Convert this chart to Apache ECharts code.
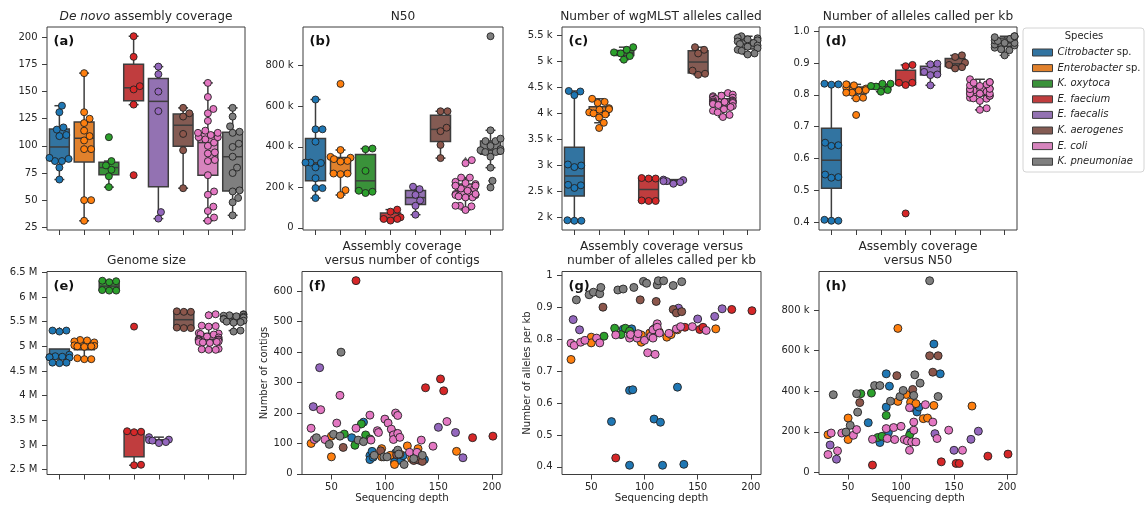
<!DOCTYPE html>
<html><head><meta charset="utf-8">
<script src="https://cdn.jsdelivr.net/npm/echarts@6/dist/echarts.min.js"></script>
<style>html,body{margin:0;padding:0;background:#fff}#c{width:1145px;height:508px}</style>
</head><body><div id="c"></div>
<script>
// ---------------- DATA ----------------
const species = ['Citrobacter sp.', 'Enterobacter sp.', 'K. oxytoca', 'E. faecium', 'E. faecalis', 'K. aerogenes', 'E. coli', 'K. pneumoniae'];

// per-sample values (aligned within each species): coverage, N50 (k), alleles per kb, contigs
const coverage = [
  [69, 80, 86, 86, 88, 89, 109, 110, 115, 117, 131, 137],
  [31, 50, 50, 97, 97, 105, 109, 114, 121, 125, 131, 167],
  [62, 72, 78, 82, 86, 108],
  [73, 138, 152, 155, 182, 201],
  [33, 39, 132, 150, 166, 173],
  [61, 96, 111, 127, 130, 135],
  [31, 34, 40, 44, 55, 58, 73, 86, 87, 93, 94, 100, 103, 106, 108, 108, 110, 112, 112, 114, 123, 130, 134, 145, 158],
  [36, 48, 52, 58, 59, 75, 80, 90, 99, 102, 112, 113, 118, 127, 135]
];
const n50k = [
  [245, 147, 486, 322, 196, 425, 196, 320, 298, 322, 633, 486],
  [186, 268, 162, 710, 350, 384, 346, 339, 265, 268, 330, 327],
  [388, 391, 172, 178, 281, 183],
  [36, 52, 44, 44, 80, 90],
  [135, 65, 191, 109, 163, 203],
  [344, 477, 409, 575, 494, 575],
  [88, 194, 106, 194, 183, 211, 163, 216, 167, 221, 162, 227, 162, 155, 319, 109, 150, 208, 248, 150, 334, 248, 167, 208, 109],
  [383, 199, 232, 388, 297, 428, 428, 351, 374, 404, 379, 481, 440, 945, 374]
];
const perKb = [
  [0.542, 0.832, 0.640, 0.405, 0.833, 0.642, 0.550, 0.835, 0.540, 0.405, 0.650, 0.408],
  [0.737, 0.807, 0.789, 0.814, 0.791, 0.820, 0.832, 0.823, 0.807, 0.815, 0.830, 0.833],
  [0.810, 0.835, 0.815, 0.835, 0.826, 0.828],
  [0.428, 0.838, 0.831, 0.838, 0.894, 0.890],
  [0.862, 0.830, 0.898, 0.864, 0.872, 0.896],
  [0.901, 0.924, 0.919, 0.894, 0.883, 0.887],
  [0.788, 0.781, 0.791, 0.797, 0.804, 0.789, 0.814, 0.804, 0.815, 0.804, 0.818, 0.797, 0.758, 0.810, 0.830, 0.804, 0.753, 0.849, 0.838, 0.820, 0.819, 0.833, 0.840, 0.840, 0.828],
  [0.924, 0.940, 0.948, 0.943, 0.963, 0.955, 0.958, 0.963, 0.982, 0.976, 0.971, 0.984, 0.984, 0.969, 0.981]
];
const contigs = [
  [119, 170, 60, 47, 74, 55, 39, 69, 44, 60, 52, 47],
  [100, 124, 56, 83, 56, 61, 31, 65, 92, 50, 83, 74],
  [131, 94, 164, 128, 115, 136],
  [635, 283, 312, 273, 119, 124],
  [221, 349, 45, 153, 136, 53],
  [87, 76, 63, 44, 48, 41],
  [150, 113, 211, 113, 167, 258, 150, 193, 111, 142, 136, 180, 167, 147, 128, 113, 200, 192, 133, 120, 71, 71, 111, 91, 172],
  [119, 97, 130, 124, 400, 111, 106, 61, 56, 56, 78, 65, 31, 50, 61]
];
// wgMLST alleles called (k)
const allelesK = [
  [4.42, 4.35, 4.43, 3.00, 2.97, 3.02, 2.62, 2.57, 2.63, 1.94, 1.94, 1.95],
  [4.28, 4.22, 4.20, 4.10, 4.08, 4.07, 4.02, 4.00, 3.98, 3.92, 3.82, 3.72],
  [5.27, 5.22, 5.17, 5.15, 5.10, 5.03],
  [2.76, 2.75, 2.75, 2.33, 2.32, 2.32],
  [2.73, 2.72, 2.70, 2.70, 2.68, 2.65],
  [5.27, 5.22, 5.15, 4.82, 4.76, 4.74],
  [4.39, 4.36, 4.34, 4.33, 4.31, 4.30, 4.28, 4.26, 4.25, 4.24, 4.23, 4.22, 4.22, 4.21, 4.20, 4.19, 4.18, 4.16, 4.14, 4.12, 4.08, 4.05, 4.02, 3.97, 3.93],
  [5.48, 5.45, 5.44, 5.42, 5.40, 5.38, 5.35, 5.33, 5.30, 5.28, 5.25, 5.22, 5.20, 5.15, 5.13]
];
// genome size (M)
const genomeM = [
  [5.32, 5.30, 5.32, 4.83, 4.80, 4.79, 4.78, 4.78, 4.77, 4.67, 4.66, 4.67],
  [5.13, 5.12, 5.10, 5.08, 5.02, 5.01, 5.00, 5.00, 4.99, 4.76, 4.74, 4.74],
  [6.33, 6.32, 6.30, 6.14, 6.13, 6.13],
  [5.40, 3.28, 3.27, 3.26, 2.60, 2.59],
  [3.16, 3.11, 3.10, 3.09, 3.06, 3.04],
  [5.71, 5.70, 5.70, 5.38, 5.37, 5.37],
  [5.65, 5.63, 5.42, 5.41, 5.40, 5.27, 5.26, 5.25, 5.24, 5.20, 5.18, 5.15, 5.14, 5.14, 5.13, 5.12, 5.10, 5.09, 5.09, 5.08, 5.07, 4.95, 4.94, 4.93, 4.93],
  [5.65, 5.64, 5.63, 5.62, 5.61, 5.60, 5.58, 5.56, 5.55, 5.52, 5.50, 5.49, 5.48, 5.32, 5.30]
];

// tick values and labels
const ticksCoverage = [25, 50, 75, 100, 125, 150, 175, 200];
const labelsCoverage = ['25', '50', '75', '100', '125', '150', '175', '200'];
const ticksN50 = [0, 200, 400, 600, 800];
const labelsN50 = ['0', '200 k', '400 k', '600 k', '800 k'];
const ticksAlleles = [2, 2.5, 3, 3.5, 4, 4.5, 5, 5.5];
const labelsAlleles = ['2 k', '2.5 k', '3 k', '3.5 k', '4 k', '4.5 k', '5 k', '5.5 k'];
const ticksPerKb = [0.4, 0.5, 0.6, 0.7, 0.8, 0.9, 1.0];
const labelsPerKbD = ['0.4', '0.5', '0.6', '0.7', '0.8', '0.9', '1.0'];
const labelsPerKbG = ['0.4', '0.5', '0.6', '0.7', '0.8', '0.9', '1'];
const ticksGenome = [2.5, 3, 3.5, 4, 4.5, 5, 5.5, 6, 6.5];
const labelsGenome = ['2.5 M', '3 M', '3.5 M', '4 M', '4.5 M', '5 M', '5.5 M', '6 M', '6.5 M'];
const ticksContigs = [0, 100, 200, 300, 400, 500, 600];
const labelsContigs = ['0', '100', '200', '300', '400', '500', '600'];
const ticksDepth = [50, 100, 150, 200];
const labelsDepth = ['50', '100', '150', '200'];

// ---------------- STYLE ----------------
const FONT = 'DejaVu Sans';
const TEXT = '#262626';
const EDGE = '#3d3d3d';
const BOX = ['#3274a1', '#e1812c', '#3a923a', '#c03d3e', '#9372b2', '#845b53', '#d684bd', '#7f7f7f'];
const PT = ['#1f77b4', '#ff7f0e', '#2ca02c', '#d62728', '#9467bd', '#8c564b', '#e377c2', '#7f7f7f'];

const boxPanels = [
  {lab: '(a)', title: '{i|De novo} assembly coverage', vals: coverage, left: 47, top: 27, width: 198, height: 203, min: 22.5, max: 209.5, ticks: ticksCoverage, labels: labelsCoverage},
  {lab: '(b)', title: 'N50', vals: n50k, left: 303, top: 27, width: 200, height: 203, min: -10.5, max: 990.5, ticks: ticksN50, labels: labelsN50},
  {lab: '(c)', title: 'Number of wgMLST alleles called', vals: allelesK, left: 562, top: 27, width: 198, height: 203, min: 1.763, max: 5.657, ticks: ticksAlleles, labels: labelsAlleles},
  {lab: '(d)', title: 'Number of alleles called per kb', vals: perKb, left: 819, top: 27, width: 198, height: 203, min: 0.376, max: 1.013, ticks: ticksPerKb, labels: labelsPerKbD},
  {lab: '(e)', title: 'Genome size', vals: genomeM, left: 47, top: 271.5, width: 199, height: 203, min: 2.403, max: 6.517, ticks: ticksGenome, labels: labelsGenome}
];
const scatterPanels = [
  {lab: '(f)', title: 'Assembly coverage\nversus number of contigs', yv: contigs, left: 302, top: 271.5, width: 200, height: 203, min: -2, max: 665, ticks: ticksContigs, labels: labelsContigs, yName: 'Number of contigs', yGap: 29},
  {lab: '(g)', title: 'Assembly coverage versus\nnumber of alleles called per kb', yv: perKb, left: 562, top: 271.5, width: 199, height: 203, min: 0.376, max: 1.013, ticks: ticksPerKb, labels: labelsPerKbG, yName: 'Number of alleles per kb', yGap: 30},
  {lab: '(h)', title: 'Assembly coverage\nversus N50', yv: n50k, left: 819, top: 271.5, width: 198, height: 203, min: -10.5, max: 990.5, ticks: ticksN50, labels: labelsN50, yName: '', yGap: 0}
];

// ---------------- HELPERS ----------------
function pct(s, p) {
  const pos = (s.length - 1) * p, lo = Math.floor(pos), hi = Math.ceil(pos);
  return s[lo] + (s[hi] - s[lo]) * (pos - lo);
}
function boxStats(v) {
  const s = v.slice().sort((a, b) => a - b);
  const q1 = pct(s, 0.25), med = pct(s, 0.5), q3 = pct(s, 0.75), iqr = q3 - q1;
  const inside = s.filter(x => x >= q1 - 1.5 * iqr && x <= q3 + 1.5 * iqr);
  const fl = s.filter(x => x < q1 - 1.5 * iqr || x > q3 + 1.5 * iqr);
  return {q1, med, q3, lo: inside[0], hi: inside[inside.length - 1], fliers: fl};
}
function swarmOffsets(vals, pxPerUnit, catW, d) {
  const idx = vals.map((v, i) => i).sort((a, b) => vals[a] - vals[b]);
  const placed = [], off = new Array(vals.length);
  for (const k of idx) {
    const y = vals[k] * pxPerUnit;
    const near = placed.filter(p => Math.abs(p.y - y) < d);
    const cands = [0];
    for (const p of near) {
      const dx = Math.sqrt(d * d - (p.y - y) * (p.y - y));
      cands.push(p.x + dx, p.x - dx);
    }
    cands.sort((a, b) => Math.abs(a) - Math.abs(b));
    let x = cands[cands.length - 1];
    for (const c of cands) {
      if (near.every(p => (p.x - c) * (p.x - c) + (p.y - y) * (p.y - y) >= d * d - 1e-6)) { x = c; break; }
    }
    placed.push({x, y});
    const lim = 0.4 * catW;
    off[k] = Math.max(-lim, Math.min(lim, x)) / catW;
  }
  return off;
}
function labelFor(ticks, labels) {
  return v => { const i = ticks.findIndex(t => Math.abs(t - v) < 1e-9); return i >= 0 ? labels[i] : ''; };
}
function yAxisFor(p, gi, extra) {
  return Object.assign({
    type: 'value', gridIndex: gi, min: p.min, max: p.max,
    splitLine: {show: false},
    axisLine: {show: false, onZero: false},
    axisTick: {show: true, length: 5, customValues: p.ticks, lineStyle: {color: EDGE, width: 1}},
    axisLabel: {show: true, customValues: p.ticks, formatter: labelFor(p.ticks, p.labels), margin: 9.5,
      fontFamily: FONT, fontSize: 10, color: TEXT}
  }, extra || {});
}

const grids = [], xAxes = [], yAxes = [], series = [], graphics = [];
const SWARM_D = 7;

boxPanels.forEach((p, pi) => {
  grids.push({left: p.left, top: p.top, width: p.width, height: p.height, show: true, borderColor: EDGE, borderWidth: 1, backgroundColor: 'transparent', containLabel: false});
  xAxes.push({type: 'value', gridIndex: pi, min: -0.5, max: 7.5, splitLine: {show: false}, axisLine: {show: false, onZero: false},
    axisTick: {show: true, length: 5, customValues: [0, 1, 2, 3, 4, 5, 6, 7], lineStyle: {color: EDGE}},
    axisLabel: {show: false}});
  yAxes.push(yAxisFor(p, pi));
  const stats = p.vals.map(boxStats);
  series.push({
    type: 'custom', xAxisIndex: pi, yAxisIndex: pi, z: 1, silent: true,
    data: stats.map((s, i) => [i, s.lo, s.q1, s.med, s.q3, s.hi]),
    renderItem: (params, api) => {
      const i = api.value(0);
      const bw = api.size([0.8, 0])[0];
      const x = api.coord([i, 0])[0];
      const Y = k => api.coord([i, api.value(k)])[1];
      const yLo = Y(1), yQ1 = Y(2), yMed = Y(3), yQ3 = Y(4), yHi = Y(5);
      const ls = {stroke: EDGE, lineWidth: 1.5};
      return {type: 'group', children: [
        {type: 'line', shape: {x1: x, y1: yQ1, x2: x, y2: yLo}, style: ls},
        {type: 'line', shape: {x1: x, y1: yQ3, x2: x, y2: yHi}, style: ls},
        {type: 'line', shape: {x1: x - bw / 4, y1: yLo, x2: x + bw / 4, y2: yLo}, style: ls},
        {type: 'line', shape: {x1: x - bw / 4, y1: yHi, x2: x + bw / 4, y2: yHi}, style: ls},
        {type: 'rect', shape: {x: x - bw / 2, y: yQ3, width: bw, height: yQ1 - yQ3}, style: {fill: BOX[i], stroke: EDGE, lineWidth: 1.5}},
        {type: 'line', shape: {x1: x - bw / 2, y1: yMed, x2: x + bw / 2, y2: yMed}, style: ls}
      ]};
    }
  });
  const fl = [];
  stats.forEach((s, i) => s.fliers.forEach(v => fl.push([i, v])));
  series.push({type: 'scatter', xAxisIndex: pi, yAxisIndex: pi, z: 2, silent: true, symbol: 'diamond', symbolSize: [5, 7],
    itemStyle: {color: EDGE}, data: fl});
  const pxPerUnit = p.height / (p.max - p.min), catW = p.width / 8;
  p.vals.forEach((vals, i) => {
    const off = swarmOffsets(vals, pxPerUnit, catW, SWARM_D);
    series.push({type: 'scatter', xAxisIndex: pi, yAxisIndex: pi, z: 3, silent: true, symbolSize: SWARM_D,
      itemStyle: {color: PT[i], borderColor: '#222', borderWidth: 0.9, opacity: 1},
      data: vals.map((v, j) => [i + off[j], v])});
  });
});

scatterPanels.forEach((p, k) => {
  const gi = boxPanels.length + k;
  grids.push({left: p.left, top: p.top, width: p.width, height: p.height, show: true, borderColor: EDGE, borderWidth: 1, backgroundColor: 'transparent', containLabel: false});
  xAxes.push({type: 'value', gridIndex: gi, min: 22.5, max: 209.5, splitLine: {show: false}, axisLine: {show: false, onZero: false},
    axisTick: {show: true, length: 5, customValues: ticksDepth, lineStyle: {color: EDGE}},
    axisLabel: {show: true, customValues: ticksDepth, formatter: labelFor(ticksDepth, labelsDepth), margin: 7.5, fontFamily: FONT, fontSize: 10, color: TEXT},
    name: 'Sequencing depth', nameLocation: 'middle', nameGap: 18.5,
    nameTextStyle: {fontFamily: FONT, fontSize: 10.3, color: TEXT, verticalAlign: 'top'}});
  yAxes.push(yAxisFor(p, gi, p.yName ? {name: p.yName, nameLocation: 'middle', nameGap: p.yGap,
    nameTextStyle: {fontFamily: FONT, fontSize: 10, color: TEXT}} : {}));
  species.forEach((s, i) => {
    series.push({type: 'scatter', name: s, xAxisIndex: gi, yAxisIndex: gi, z: 3, silent: true, symbolSize: 8,
      itemStyle: {color: PT[i], borderColor: '#222', borderWidth: 0.9, opacity: 1},
      data: coverage[i].map((c, j) => [c, p.yv[i][j]])});
  });
});

// titles and panel letters
boxPanels.concat(scatterPanels).forEach(p => {
  graphics.push({type: 'text', x: p.left + p.width / 2, y: p.top - 3.5, silent: true,
    style: {text: p.title, align: 'center', verticalAlign: 'bottom', fontFamily: FONT, fontSize: 12.2, lineHeight: 14, fill: TEXT,
      rich: {i: {fontStyle: 'italic', fontFamily: FONT, fontSize: 12.2, fill: TEXT}}}});
  graphics.push({type: 'text', x: p.left + 6.5, y: p.top + 15, silent: true, z: 10,
    style: {text: p.lab, align: 'left', verticalAlign: 'middle', fontFamily: FONT, fontSize: 13, fontWeight: 'bold', fill: '#111'}});
});
// legend frame and title
graphics.push({type: 'rect', shape: {x: 1023, y: 28, width: 121, height: 144, r: 3}, silent: true, z: -1,
  style: {fill: '#fff', stroke: '#d4d4d4', lineWidth: 1}});
graphics.push({type: 'text', x: 1084, y: 36.5, silent: true,
  style: {text: 'Species', align: 'center', verticalAlign: 'middle', fontFamily: FONT, fontSize: 10, fill: TEXT}});

const chart = echarts.init(document.getElementById('c'), null, {renderer: 'canvas'});
chart.setOption({
  animation: false,
  backgroundColor: '#fff',
  grid: grids, xAxis: xAxes, yAxis: yAxes, series: series,
  legend: {
    left: 1027, top: 41.5, orient: 'vertical', itemWidth: 20, itemHeight: 7, itemGap: 3.6,
    icon: 'rect', selectedMode: false, padding: 5,
    data: species.map((s, i) => ({name: s, itemStyle: {color: BOX[i], borderColor: EDGE, borderWidth: 1}})),
    formatter: name => name.endsWith(' sp.') ? '{i|' + name.slice(0, -4) + '} sp.' : '{i|' + name + '}',
    textStyle: {fontFamily: FONT, fontSize: 10, color: TEXT, lineHeight: 12,
      rich: {i: {fontStyle: 'italic', fontFamily: FONT, fontSize: 10, color: TEXT, lineHeight: 12}}}
  },
  graphic: graphics
});
</script>
</body></html>
